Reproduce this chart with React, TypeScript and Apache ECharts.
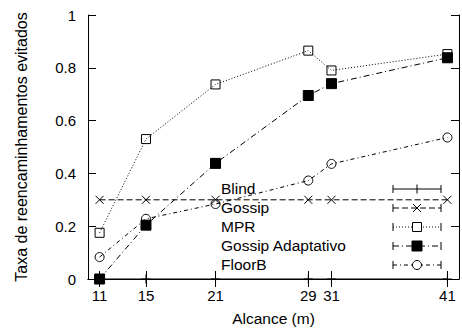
import React, { useEffect, useRef } from "react";
import * as echarts from "echarts";

const alcance = [11, 15, 21, 29, 31, 41];
const blind = [0, 0, 0, 0, 0, 0];
const gossip = [0.3, 0.3, 0.3, 0.3, 0.3, 0.3];
const mpr = [0.175, 0.53, 0.737, 0.865, 0.79, 0.852];
const gossipAdaptativo = [0.0, 0.204, 0.438, 0.695, 0.74, 0.838];
const floorB = [0.083, 0.228, 0.284, 0.373, 0.436, 0.536];
const seriesNames = ["Blind", "Gossip", "MPR", "Gossip Adaptativo", "FloorB"];

const FONT = "'Liberation Sans', Arial, Helvetica, sans-serif";
const X_SYM = "path://M0,0L10,10M10,0L0,10";
const PLUS_SYM = "path://M5,0L5,10M0,5L10,5";

const styles: Record<string, any> = {
  Blind: { dash: "solid", symbol: PLUS_SYM, size: 9, fill: "transparent" },
  Gossip: { dash: [6, 3], symbol: X_SYM, size: 8, fill: "transparent" },
  MPR: { dash: [1, 2], symbol: "rect", size: 9, fill: "transparent" },
  "Gossip Adaptativo": { dash: [6, 3, 1, 3], symbol: "rect", size: 10, fill: "#000" },
  FloorB: { dash: [4, 3, 1, 3], symbol: "circle", size: 9, fill: "transparent" },
};

const dataByName: Record<string, number[]> = {
  Blind: blind,
  Gossip: gossip,
  MPR: mpr,
  "Gossip Adaptativo": gossipAdaptativo,
  FloorB: floorB,
};

function legendGraphics() {
  const els: any[] = [];
  const textX = 221;
  const x0 = 393;
  const x1 = 441;
  const xm = 417;
  seriesNames.forEach((name, i) => {
    const y = 189 + i * 19;
    const st = styles[name];
    const dash = st.dash === "solid" ? null : st.dash;
    els.push({
      type: "text",
      left: textX,
      top: y - 9,
      style: { text: name, fontSize: 15.5, fontFamily: FONT, fill: "#000" },
      z: 10,
    });
    els.push({
      type: "line",
      shape: { x1: x0, y1: y, x2: x1, y2: y },
      style: { stroke: "#000", lineWidth: 1, lineDash: dash },
      z: 10,
    });
    els.push({
      type: "line",
      shape: { x1: x0, y1: y - 4, x2: x0, y2: y + 4 },
      style: { stroke: "#000", lineWidth: 1 },
      z: 10,
    });
    els.push({
      type: "line",
      shape: { x1: x1, y1: y - 4, x2: x1, y2: y + 4 },
      style: { stroke: "#000", lineWidth: 1 },
      z: 10,
    });
    if (name === "Blind") {
      els.push({ type: "line", shape: { x1: xm, y1: y - 4.5, x2: xm, y2: y + 4.5 }, style: { stroke: "#000", lineWidth: 1 }, z: 10 });
    } else if (name === "Gossip") {
      els.push({ type: "line", shape: { x1: xm - 4, y1: y - 4, x2: xm + 4, y2: y + 4 }, style: { stroke: "#000", lineWidth: 1 }, z: 10 });
      els.push({ type: "line", shape: { x1: xm - 4, y1: y + 4, x2: xm + 4, y2: y - 4 }, style: { stroke: "#000", lineWidth: 1 }, z: 10 });
    } else if (name === "MPR") {
      els.push({ type: "rect", shape: { x: xm - 4.5, y: y - 4.5, width: 9, height: 9 }, style: { fill: "#fff", stroke: "#000", lineWidth: 1 }, z: 11 });
    } else if (name === "Gossip Adaptativo") {
      els.push({ type: "rect", shape: { x: xm - 5, y: y - 5, width: 10, height: 10 }, style: { fill: "#000", stroke: "#000", lineWidth: 1 }, z: 11 });
    } else {
      els.push({ type: "circle", shape: { cx: xm, cy: y, r: 4.5 }, style: { fill: "#fff", stroke: "#000", lineWidth: 1 }, z: 11 });
    }
  });
  return els;
}

export default function App() {
  const ref = useRef<HTMLDivElement>(null);
  useEffect(() => {
    if (!ref.current) return;
    const chart = echarts.init(ref.current, null, { renderer: "svg" });
    const axisLine = { show: true, lineStyle: { color: "#000", width: 1 } };
    chart.setOption({
      animation: false,
      backgroundColor: "#fff",
      textStyle: { fontFamily: FONT },
      grid: { left: 88, right: 3, top: 15, bottom: 47, show: false },
      xAxis: [
        {
          type: "value",
          min: 10,
          max: 42,
          position: "bottom",
          axisLine,
          axisTick: { show: true, inside: true, length: 8, customValues: alcance, lineStyle: { color: "#000" } },
          axisLabel: { customValues: alcance, fontSize: 15, color: "#000", margin: 9, fontFamily: FONT },
          splitLine: { show: false },
          name: "Alcance (m)",
          nameLocation: "middle",
          nameGap: 31,
          nameTextStyle: { fontSize: 15.5, color: "#000", fontFamily: FONT },
        },
        {
          type: "value",
          min: 10,
          max: 42,
          position: "top",
          axisLine,
          axisTick: { show: true, inside: true, length: 8, customValues: alcance, lineStyle: { color: "#000" } },
          axisLabel: { show: false },
          splitLine: { show: false },
        },
      ],
      yAxis: [
        {
          type: "value",
          min: 0,
          max: 1,
          interval: 0.2,
          position: "left",
          axisLine,
          axisTick: { show: true, inside: true, length: 8, lineStyle: { color: "#000" } },
          axisLabel: { fontSize: 15, color: "#000", margin: 12, fontFamily: FONT },
          splitLine: { show: false },
          name: "Taxa de reencaminhamentos evitados",
          nameLocation: "middle",
          nameGap: 59,
          nameTextStyle: { fontSize: 16, color: "#000", fontFamily: FONT },
        },
        {
          type: "value",
          min: 0,
          max: 1,
          interval: 0.2,
          position: "right",
          axisLine,
          axisTick: { show: true, inside: true, length: 8, lineStyle: { color: "#000" } },
          axisLabel: { show: false },
          splitLine: { show: false },
        },
      ],
      series: seriesNames.map((name) => {
        const st = styles[name];
        return {
          name,
          type: "line",
          xAxisIndex: 0,
          yAxisIndex: 0,
          data: alcance.map((x, i) => [x, dataByName[name][i]]),
          symbol: st.symbol,
          symbolSize: st.size,
          showAllSymbol: true,
          lineStyle: { color: "#000", width: 1, type: st.dash },
          itemStyle: { color: st.fill, borderColor: "#000", borderWidth: 1 },
          emphasis: { disabled: true },
        };
      }),
      graphic: legendGraphics(),
    });
    return () => chart.dispose();
  }, []);
  return (
    <div
      ref={ref}
      style={{ position: "fixed", left: 0, top: 0, width: 462, height: 331 }}
    />
  );
}
